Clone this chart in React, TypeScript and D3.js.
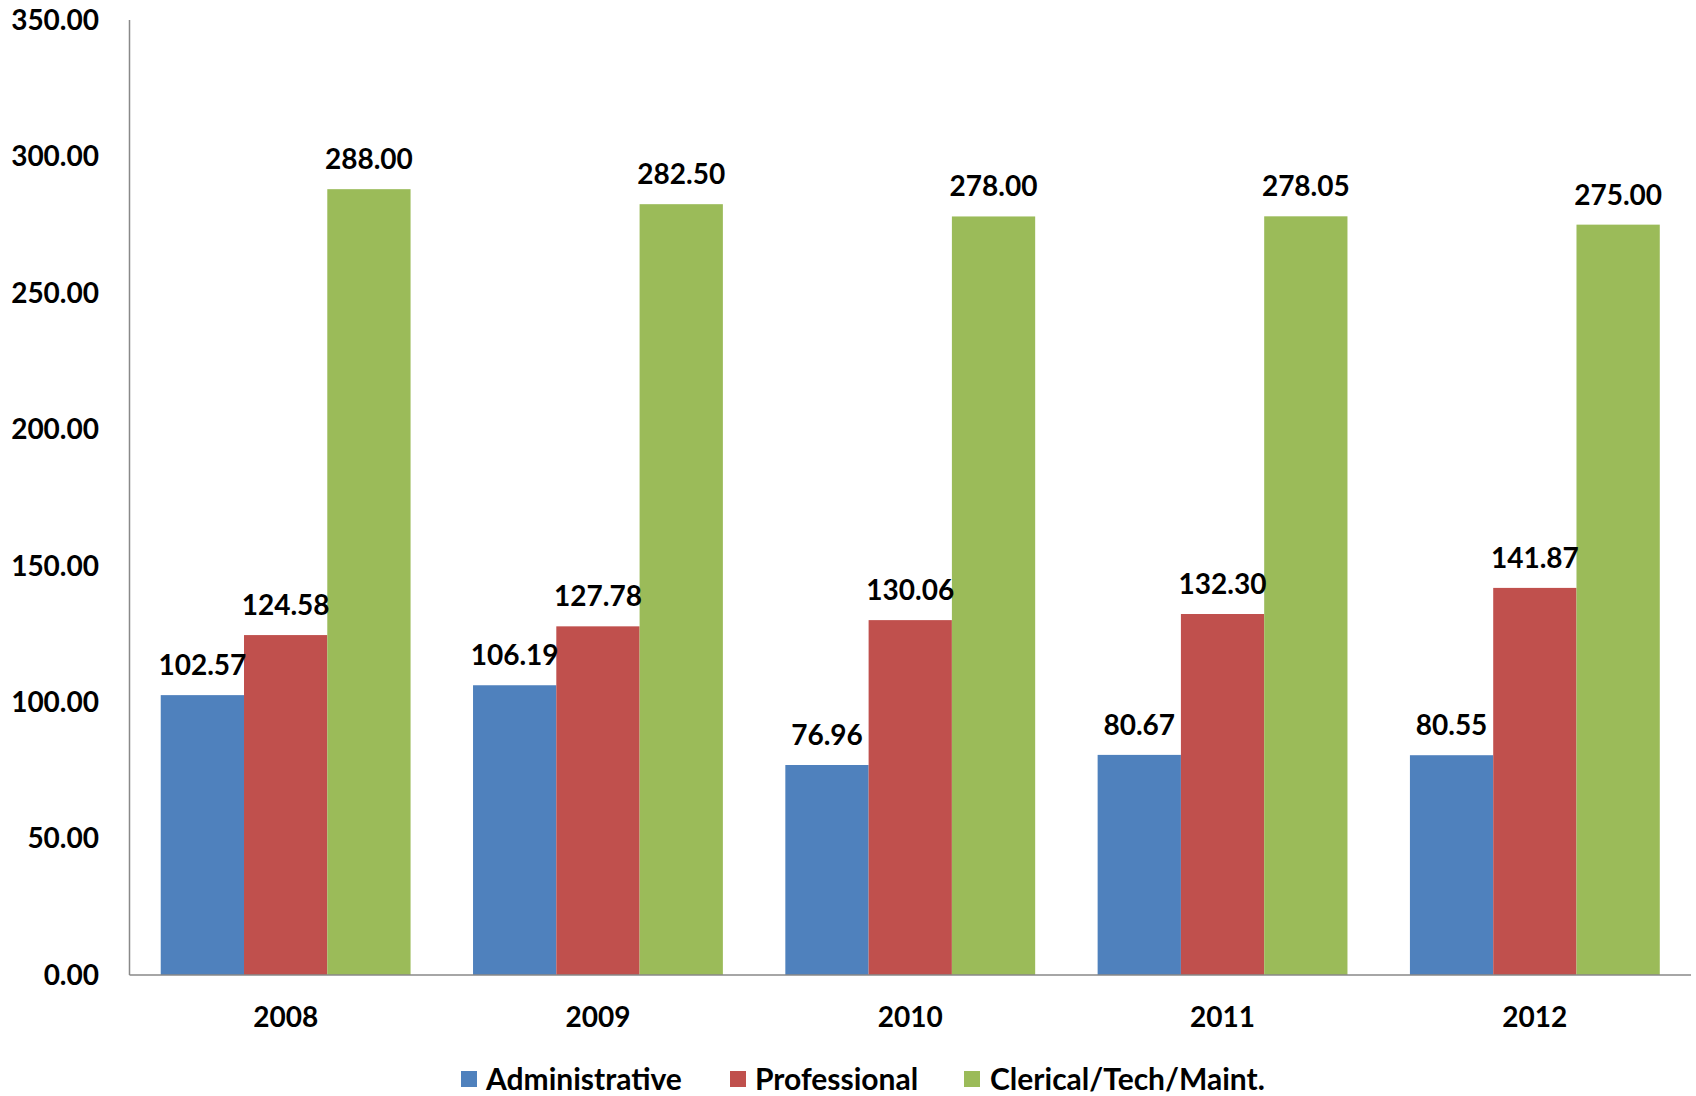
import React from "react";
import * as d3 from "d3";

const years = ["2008", "2009", "2010", "2011", "2012"];
const seriesNames = ["Administrative", "Professional", "Clerical/Tech/Maint."];
const administrative = [102.57, 106.19, 76.96, 80.67, 80.55];
const professional = [124.58, 127.78, 130.06, 132.3, 141.87];
const clerical = [288.0, 282.5, 278.0, 278.05, 275.0];
const yTicks = [0, 50, 100, 150, 200, 250, 300, 350];
const colors = ["#4F81BD", "#C0504D", "#9BBB59"];

const W = 1696;
const H = 1096;
const margin = { left: 129.5, right: 5, top: 20, bottom: 121 };
const FONT = "Lato, 'Open Sans', sans-serif";

export default function App() {
  const series = [administrative, professional, clerical];
  const x0 = d3
    .scaleBand<string>()
    .domain(years)
    .range([margin.left, W - margin.right])
    .paddingInner(0.2)
    .paddingOuter(0.1);
  const x1 = d3.scaleBand<number>().domain([0, 1, 2]).range([0, x0.bandwidth()]);
  const y = d3.scaleLinear().domain([0, 350]).range([H - margin.bottom, margin.top]);
  const fmt = d3.format(".2f");

  const legendItems = [
    { sq: 461, tx: 486 },
    { sq: 730, tx: 755 },
    { sq: 964, tx: 990 },
  ];

  return (
    <svg
      width={W}
      height={H}
      style={{ position: "absolute", left: 0, top: 0, background: "#fff" }}
      fontFamily={FONT}
    >
      {years.map((yr, i) => (
        <g key={yr}>
          {series.map((s, k) => {
            const bx = (x0(yr) as number) + (x1(k) as number);
            return (
              <rect
                key={k}
                x={bx}
                y={y(s[i])}
                width={x1.bandwidth()}
                height={y(0) - y(s[i])}
                fill={colors[k]}
              />
            );
          })}
        </g>
      ))}
      {years.map((yr, i) =>
        series.map((s, k) => {
          const bx = (x0(yr) as number) + (x1(k) as number) + x1.bandwidth() / 2;
          return (
            <text
              key={yr + k}
              x={bx}
              y={y(s[i]) - 20}
              textAnchor="middle"
              fontSize={28}
              fontWeight={700}
              fill="#000"
            >
              {fmt(s[i])}
            </text>
          );
        })
      )}
      <line
        x1={margin.left}
        x2={margin.left}
        y1={margin.top}
        y2={y(0)}
        stroke="#898989"
        strokeWidth={1.5}
      />
      <line
        x1={margin.left}
        x2={W - margin.right}
        y1={y(0)}
        y2={y(0)}
        stroke="#898989"
        strokeWidth={1.5}
      />
      {yTicks.map((t) => (
        <text
          key={t}
          x={99}
          y={y(t)}
          dy="0.35em"
          textAnchor="end"
          fontSize={28}
          fontWeight={700}
          fill="#000"
        >
          {fmt(t)}
        </text>
      ))}
      {years.map((yr) => (
        <text
          key={yr}
          x={(x0(yr) as number) + x0.bandwidth() / 2}
          y={y(0) + 52}
          textAnchor="middle"
          fontSize={28}
          fontWeight={700}
          fill="#000"
        >
          {yr}
        </text>
      ))}
      {seriesNames.map((n, k) => (
        <g key={n}>
          <rect x={legendItems[k].sq} y={1071} width={16} height={16} fill={colors[k]} />
          <text
            x={legendItems[k].tx}
            y={1079}
            dy="0.35em"
            fontSize={30}
            fontWeight={700}
            fill="#000"
          >
            {n}
          </text>
        </g>
      ))}
    </svg>
  );
}
